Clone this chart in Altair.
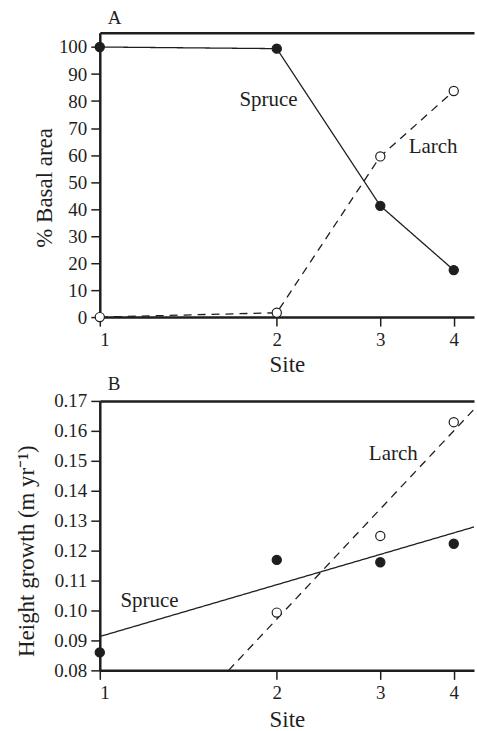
import altair as alt
import pandas as pd

# ---------------- data ----------------
sites = [1, 2, 3, 4]
species_names = ["Spruce", "Larch"]

# Panel A: % basal area
spruce_basal = [100.0, 99.4, 41.2, 17.4]
larch_basal = [0.0, 1.6, 59.5, 83.7]

# Panel B: height growth (m / yr)
spruce_growth_sites = [1, 2, 3, 4]
spruce_growth = [0.086, 0.1169, 0.1161, 0.1223]
larch_growth_sites = [2, 3, 4]
larch_growth = [0.0993, 0.1249, 0.1629]

# Panel B: fitted lines (end points)
spruce_fit_sites = [1.0, 4.33]
spruce_fit = [0.0913, 0.1279]
larch_fit_sites = [1.656, 4.33]
larch_fit = [0.08, 0.1672]

# Curve labels
labelsA_text = ["Spruce", "Larch"]
labelsA_x = [1.936, 3.69]
labelsA_y = [80.4, 63.1]
labelsB_text = ["Spruce", "Larch"]
labelsB_x = [1.215, 3.156]
labelsB_y = [0.103, 0.1522]

basal_ticks = [0, 10, 20, 30, 40, 50, 60, 70, 80, 90, 100]
growth_ticks = [0.08, 0.09, 0.10, 0.11, 0.12, 0.13, 0.14, 0.15, 0.16, 0.17]

# ---------------- tables ----------------
dfA = pd.DataFrame({
    "site": sites + sites,
    "value": spruce_basal + larch_basal,
    "species": ["Spruce"] * len(sites) + ["Larch"] * len(sites),
})
dfB = pd.DataFrame({
    "site": spruce_growth_sites + larch_growth_sites,
    "value": spruce_growth + larch_growth,
    "species": ["Spruce"] * len(spruce_growth_sites) + ["Larch"] * len(larch_growth_sites),
})
fitB = pd.DataFrame({
    "site": spruce_fit_sites + larch_fit_sites,
    "value": spruce_fit + larch_fit,
    "species": ["Spruce"] * 2 + ["Larch"] * 2,
})
labA = pd.DataFrame({"site": labelsA_x, "value": labelsA_y, "label": labelsA_text})
labB = pd.DataFrame({"site": labelsB_x, "value": labelsB_y, "label": labelsB_text})

# ---------------- styling ----------------
FONT = "Liberation Serif"
INK = "#1e1e1e"
W = 375

AX = dict(
    labelFont=FONT, labelFontSize=19, labelColor=INK, labelPadding=4, labelOverlap=False,
    labelFontWeight="normal",
    titleFont=FONT, titleFontSize=23, titleFontWeight="normal", titleColor=INK,
    tickSize=9, tickWidth=1.5, tickColor=INK,
    domainWidth=2.5, domainColor=INK, grid=False,
)

xscale = alt.Scale(type="log", domain=[1, 4.33], nice=False)
dash = alt.StrokeDash("species:N", scale=alt.Scale(domain=species_names, range=[[1, 0], [8, 6]]), legend=None)
fill = alt.Fill("species:N", scale=alt.Scale(domain=species_names, range=[INK, "white"]), legend=None)


def panel(df_points, df_lines, df_labels, yscale, yaxis, height, letter, xtitle_pad, title_offset):
    xaxis = alt.Axis(values=sites, format="d", title="Site", orient="bottom",
                     titlePadding=xtitle_pad, **AX)
    lines = alt.Chart(df_lines).mark_line(color=INK, strokeWidth=1.3).encode(
        x=alt.X("site:Q", scale=xscale, axis=xaxis),
        y=alt.Y("value:Q", scale=yscale, axis=yaxis),
        strokeDash=dash, detail="species:N",
    )
    points = alt.Chart(df_points).mark_point(
        filled=True, shape="circle", size=85, stroke=INK, strokeWidth=1.2, opacity=1
    ).encode(
        x=alt.X("site:Q", scale=xscale, axis=None),
        y=alt.Y("value:Q", scale=yscale, axis=yaxis),
        fill=fill,
    )
    texts = alt.Chart(df_labels).mark_text(font=FONT, fontSize=21, color=INK).encode(
        x=alt.X("site:Q", scale=xscale, axis=None),
        y=alt.Y("value:Q", scale=yscale, axis=yaxis),
        text="label:N",
    )
    top = alt.Chart(df_points).mark_point(opacity=0).encode(
        x=alt.X("site:Q", scale=xscale,
                axis=alt.Axis(orient="top", labels=False, ticks=False, title=None, domain=True,
                              domainWidth=2.5, domainColor=INK, grid=False))
    )
    return alt.layer(top, lines, points, texts).resolve_axis(x="independent").properties(
        width=W, height=height,
        title=alt.TitleParams(letter, anchor="start", frame="group", font=FONT, fontSize=19,
                              fontWeight="normal", color=INK, dx=8, offset=title_offset),
    )


yaxisA = alt.Axis(values=basal_ticks, format="d", title="% Basal area",
                  titleX=-48, titleY=155, titleBaseline="alphabetic", titlePadding=5, **AX)
yaxisB = alt.Axis(values=growth_ticks, format=".2f", title="Height growth (m yr\u207b\u00b9)",
                  titleX=-66, titleY=150, titleBaseline="alphabetic", titlePadding=5, **AX)

panelA = panel(dfA, dfA, labA, alt.Scale(domain=[0, 105.3], nice=False, zero=False),
               yaxisA, 285, "A", 5, 5)
panelB = panel(dfB, fitB, labB, alt.Scale(domain=[0.08, 0.17], nice=False, zero=False),
               yaxisB, 270, "B", 6, -2)

chart = alt.vconcat(panelA, panelB, spacing=-2).properties(
    padding={"left": 16, "top": 8, "right": 0, "bottom": 0}
).configure_view(stroke=None)

chart.save("out.html", embed_options={"renderer": "svg", "actions": False})
